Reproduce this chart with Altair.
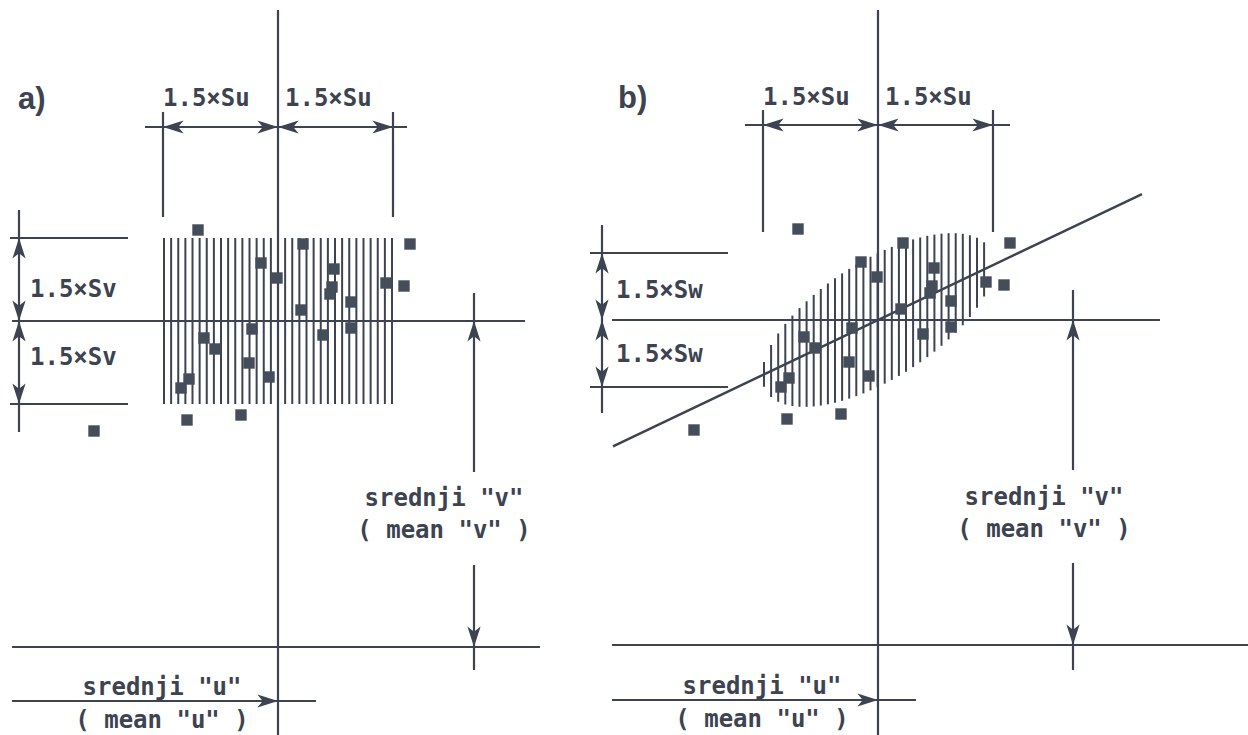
import altair as alt
import numpy as np
import pandas as pd

W, H = 1248, 735
INK = "#3d4350"
DOT = "#454c5a"
MONO = "DejaVu Sans Mono"

# Observations as deviations from the sample means (u to the right, v upward), drawing units
du = [-80, -184, -17, -1, 25, 56, 54, 52, 73, 23, 108, 126,
      132, -26, -74, -63, 45, 73, -29, -9, -89, -97, -91, -37]
dv = [91, -110, 58, 43, 77, 52, 34, 27, 19, 11, 38, 35,
      77, -8, -17, -28, -14, -7, -42, -56, -58, -67, -99, -94]

# Position of the point (mean u, mean v) in each panel
origin = {"a": (278, H - 321), "b": (878, H - 320)}

K_U = 115      # 1.5 * Su
K_V = 83       # 1.5 * Sv
K_W = 67       # 1.5 * Sw (residual spread about the regression line)
SLOPE = 0.477  # regression of v on u
ELL_U = 116    # half-width of the hatched ellipse along u


def to_xy(p, u, v):
    ox, oy = origin[p]
    return ox + u, oy + v


# ---- line segments -------------------------------------------------------
seg = []  # panel, u1, v1, u2, v2, width


def add(p, u1, v1, u2, v2, w=2.2):
    seg.append((p, u1, v1, u2, v2, w))


# panel a
add("a", 0, 311, 0, -414)           # mean u
add("a", -266, 0, 247, 0)           # mean v
add("a", -266, -326, 262, -326)     # baseline
add("a", -266, -380, 38, -380)      # mean-u pointer
add("a", 196, 28, 196, -151)        # mean-v pointer (upper)
add("a", 196, -244, 196, -349)      # mean-v pointer (lower)
add("a", -133, 194, 129, 194)       # top dimension line
add("a", -K_U, 209, -K_U, 104)
add("a", K_U, 209, K_U, 104)
add("a", -259, 111, -259, -111)     # left dimension line
add("a", -268, K_V, -150, K_V)
add("a", -268, -K_V, -150, -K_V)

# panel b
add("b", 0, 310, 0, -415)
add("b", -266, 0, 282, 0)
add("b", -266, -325, 370, -325)
add("b", -266, -380, 38, -380)
add("b", 195, 30, 195, -150)
add("b", 195, -243, 195, -350)
add("b", -133, 195, 132, 195)
add("b", -K_U, 210, -K_U, 88)
add("b", K_U, 210, K_U, 88)
add("b", -276, 95, -276, -93)
add("b", -288, K_W, -150, K_W)
add("b", -288, -K_W, -150, -K_W)
add("b", -265, -265 * SLOPE, 264, 264 * SLOPE, 2.5)  # regression line

# hatching: rectangle +-1.5Su x +-1.5Sv (a), ellipse about the regression line (b)
for u in np.linspace(-114, 114, 33):
    add("a", u, K_V, u, -K_V, 2.0)
for k in range(32):
    u = -114 + 7.1 * k
    h = K_W * np.sqrt(max(0.0, 1 - (u / ELL_U) ** 2))
    c = SLOPE * u
    add("b", u, c + h, u, c - h, 2.0)

rows = []
for p, u1, v1, u2, v2, w in seg:
    x1, y1 = to_xy(p, u1, v1)
    x2, y2 = to_xy(p, u2, v2)
    rows.append(dict(x=x1, y=y1, x2=x2, y2=y2, w=w))
segments = pd.DataFrame(rows)

# ---- arrow heads (angle: 0 right, 90 down, 180 left, 270 up) ---------------
heads = []
for p, kv, vx, top, ux, base in [("a", K_V, -259, 194, 196, -326),
                                  ("b", K_W, -276, 195, 195, -325)]:
    heads += [(p, -K_U, top, 180), (p, 0, top, 0), (p, 0, top, 180), (p, K_U, top, 0),
              (p, vx, kv, 270), (p, vx, 0, 90), (p, vx, 0, 270), (p, vx, -kv, 90),
              (p, ux, 0, 270), (p, ux, base, 90),
              (p, 0, -380, 0)]
arrows = pd.DataFrame([dict(zip(("x", "y"), to_xy(p, u, v)), ang=a) for p, u, v, a in heads])

# ---- observations ----------------------------------------------------------
pts = pd.DataFrame([dict(zip(("x", "y"), to_xy(p, u, v)))
                    for p in ("a", "b") for u, v in zip(du, dv)])

# ---- labels ----------------------------------------------------------------
labels = []
for p, sym, lo in [("a", "Sv", (-248, 31, -37)), ("b", "Sw", (-262, 29, -35))]:
    labels += [(p, -K_U, 222, "1.5×Su", "left"), (p, 7, 222, "1.5×Su", "left"),
               (p, lo[0], lo[1], "1.5×" + sym, "left"), (p, lo[0], lo[2], "1.5×" + sym, "left"),
               (p, -116, -367, 'srednji "u"', "center"), (p, -116, -400, '( mean "u" )', "center"),
               (p, 166, -178, 'srednji "v"', "center"), (p, 166, -210, '( mean "v" )', "center")]
txt = pd.DataFrame([dict(zip(("x", "y"), to_xy(p, u, v)), t=t, al=al) for p, u, v, t, al in labels])
tags = pd.DataFrame([dict(zip(("x", "y"), to_xy(p, -260, 221)), t=p + ")") for p in ("a", "b")])

X = alt.X("x:Q", scale=alt.Scale(domain=[0, W]), axis=None)
Y = alt.Y("y:Q", scale=alt.Scale(domain=[0, H]), axis=None)

rules = alt.Chart(segments).mark_rule(color=INK).encode(
    x=X, y=Y, x2="x2:Q", y2="y2:Q",
    strokeWidth=alt.StrokeWidth("w:Q", scale=None))

heads_layer = alt.Chart(arrows).mark_point(
    shape="M0,0 L-1,-0.32 L-0.74,0 L-1,0.32 Z", size=1700,
    filled=True, color=INK, opacity=1, strokeWidth=0).encode(
    x=X, y=Y, angle=alt.Angle("ang:Q", scale=None))

dots = alt.Chart(pts).mark_square(size=130, color=DOT, opacity=1).encode(x=X, y=Y)

text_l = alt.Chart(txt[txt.al == "left"]).mark_text(
    font=MONO, fontSize=24, fontWeight="bold", color=INK, align="left", baseline="middle").encode(
    x=X, y=Y, text="t:N")
text_c = alt.Chart(txt[txt.al == "center"]).mark_text(
    font=MONO, fontSize=24, fontWeight="bold", color=INK, align="center", baseline="middle").encode(
    x=X, y=Y, text="t:N")
tag_layer = alt.Chart(tags).mark_text(
    font="Liberation Sans", fontSize=31, fontWeight="bold", color=INK,
    align="left", baseline="middle").encode(x=X, y=Y, text="t:N")

chart = alt.layer(rules, heads_layer, dots, text_l, text_c, tag_layer).properties(
    width=W, height=H, padding=0, autosize=alt.AutoSizeParams(type="none"),
    background="white"
).configure_view(stroke=None)

chart.save("out.html", embed_options={"renderer": "svg", "actions": False})
